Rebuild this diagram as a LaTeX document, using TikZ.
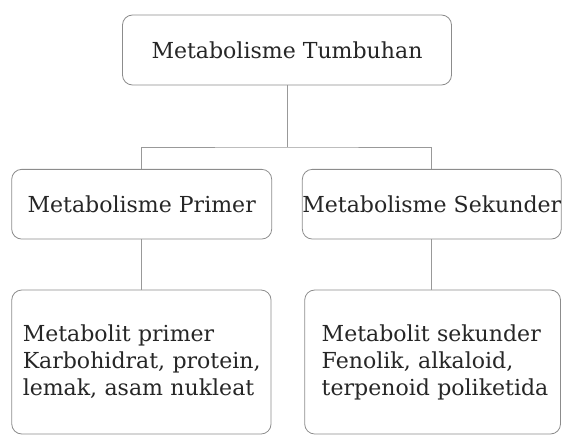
\documentclass[tikz,border=0pt]{standalone}
\usepackage{fontspec}
\setmainfont{DejaVu Serif}
\newlength\reflen
\begin{document}
\settowidth\reflen{\fontsize{20}{24}\selectfont Metabolisme Tumbuhan}%
\pgfmathsetmacro\fs{20*271/\reflen}%
\begin{tikzpicture}[x=1pt,y=-1pt]
\tikzset{
  box/.style={draw=black!45, line width=0.8pt, rounded corners=10pt, rectangle,
    text=black!85, font=\fontsize{\fs}{27}\selectfont, inner sep=0pt, align=center},
  wide/.style={align=left, text width=#1},
  link/.style={draw=black!40, line width=0.8pt}
}
\useasboundingbox (0,0) rectangle (562,436);
\node[box, minimum width=329pt, minimum height=70pt] (top) at (287,50) {Metabolisme Tumbuhan};
\node[box, minimum width=260pt, minimum height=69.7pt] (ml) at (141.7,204.2) {Metabolisme Primer};
\node[box, minimum width=257.5pt, minimum height=69.7pt] (mr) at (431.8,204.2) {Metabolisme Sekunder};
\node[box, minimum width=259.3pt, minimum height=144pt, wide=237.3pt] (bl) at (141.4,362) {\mbox{Metabolit primer}\\\mbox{Karbohidrat, protein,}\\\mbox{lemak, asam nukleat}};
\node[box, minimum width=255.8pt, minimum height=144pt, wide=221.8pt] (br) at (432.6,362) {\mbox{Metabolit sekunder}\\\mbox{Fenolik, alkaloid,}\\\mbox{terpenoid poliketida}};
\coordinate (j) at (287,147);
\draw[link] (top.south) -- (j);
\draw[link] (ml.north) |- (j) -| (mr.north);
\draw[link] (ml.south) -- (ml.south |- bl.north);
\draw[link] (mr.south) -- (mr.south |- br.north);
\end{tikzpicture}
\end{document}
